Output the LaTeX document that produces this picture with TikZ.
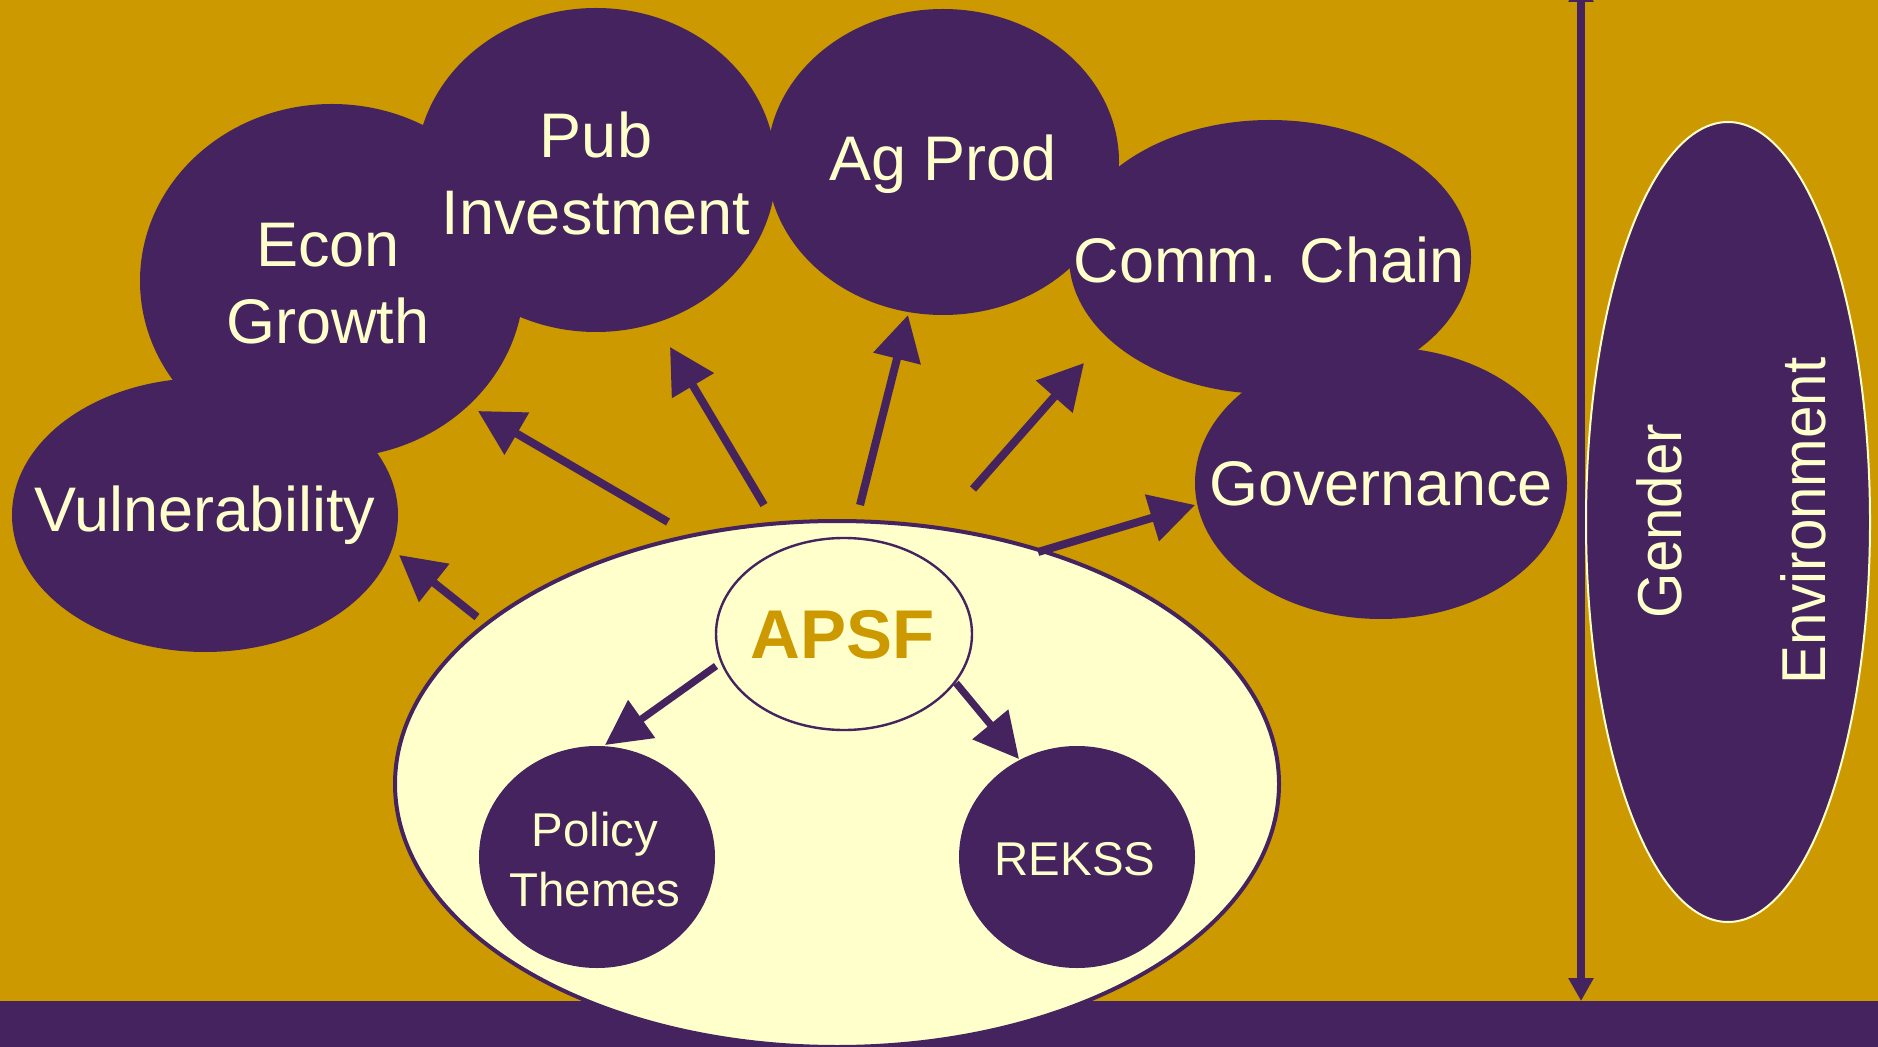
\documentclass[tikz,border=0pt]{standalone}
\usepackage{fontspec}
\setmainfont{Liberation Sans}
\usetikzlibrary{arrows.meta,shapes.geometric}
\definecolor{gold}{HTML}{CC9900}
\definecolor{plum}{HTML}{45235E}
\definecolor{cream}{HTML}{FFFFCC}
\begin{document}
\begin{tikzpicture}[x=0.5pt,y=-0.5pt,
  blob/.style={ellipse, fill=plum, draw=none, inner sep=0pt},
  lbl/.style={text=cream, align=center, inner sep=0pt, font=\fontsize{31.5}{38.5}\selectfont},
  smalllbl/.style={text=cream, align=center, inner sep=0pt, font=\fontsize{23.7}{30}\selectfont},
  sidelbl/.style={text=cream, inner sep=0pt, rotate=90, font=\fontsize{31}{36}\selectfont},
  arr/.style={draw=plum, line width=4pt, -{Triangle[length=22.5pt,width=23.5pt]}},
  innerarr/.style={draw=plum, line width=3.6pt, -{Triangle[length=22.5pt,width=22.5pt]}},
  vertarr/.style={draw=plum, line width=4pt, {Triangle[length=11.5pt,width=12pt]}-{Triangle[length=11.5pt,width=12pt]}}
]
\clip (0,0) rectangle (1878,1047);
\fill[gold] (0,0) rectangle (1878,1047);
\fill[plum] (0,1001) rectangle (1878,1047);

% outer ellipses
\node[blob, minimum width=193pt, minimum height=137pt] (vul) at (205,515) {};
\node[blob, minimum width=192pt, minimum height=177pt] (econ) at (332,281) {};
\node[blob, minimum width=180pt, minimum height=162pt] (pub) at (596,170) {};
\node[blob, minimum width=176pt, minimum height=153pt] (ag) at (943,162) {};
\node[blob, minimum width=201pt, minimum height=137pt] (comm) at (1270,257) {};
\node[blob, minimum width=186pt, minimum height=136pt] (gov) at (1381,483) {};

\node[lbl] (vulT) at (vul) {Vulnerability};
\node[lbl] (econT) at (328,284) {Econ\\Growth};
\node[lbl] (pubT) at (596,173) {Pub\\Investment};
\node[lbl] (agT) at (943,164) {Ag Prod};
\node[lbl] (commT) at (1269,260) {Comm. Chain};
\node[lbl] (govT) at (1381,484) {Governance};

% side ellipse
\node[blob, draw=cream, line width=1pt, minimum width=142pt, minimum height=400pt] (genv) at (1728,522) {};
\node[sidelbl] (genT) at (1659,521) {\scalebox{0.94}[1]{Gender}};
\node[sidelbl] (envT) at (1803,521) {\scalebox{0.94}[1]{Environment}};

% vertical double arrow
\coordinate (vtop) at (1581,-21);
\coordinate (vbot) at (1581,1001);
\draw[vertarr] (vtop) -- (vbot);

% central cream ellipse
\node[ellipse, fill=cream, draw=plum, line width=2pt, inner sep=0pt, minimum width=442pt, minimum height=263pt] (big) at (837,784) {};
\node[ellipse, fill=cream, draw=plum, line width=1.2pt, inner sep=0pt, minimum width=128pt, minimum height=96pt] (apsf) at (844,634) {};
\node[text=gold, inner sep=0pt, font=\fontsize{34.5}{40}\selectfont\bfseries] (apsfT) at (843,635) {APSF};
\node[blob, minimum width=118pt, minimum height=111pt] (pol) at (597,857) {};
\node[blob, minimum width=118pt, minimum height=111pt] (rek) at (1077,857) {};
\node[smalllbl] (polT) at (595,860) {Policy\\Themes};
\node[smalllbl] (rekT) at (1075,859) {REKSS};

% outward arrows
\coordinate (a1s) at (477,617);  \coordinate (a1e) at (399,555);
\coordinate (a2s) at (668,522);  \coordinate (a2e) at (478,411);
\coordinate (a3s) at (764,505);  \coordinate (a3e) at (670,347);
\coordinate (a4s) at (860,505);  \coordinate (a4e) at (908,315);
\coordinate (a5s) at (973,489);  \coordinate (a5e) at (1084,363);
\coordinate (a6s) at (1038,552); \coordinate (a6e) at (1195,505);
\draw[arr] (a1s) -- (a1e);
\draw[arr] (a2s) -- (a2e);
\draw[arr] (a3s) -- (a3e);
\draw[arr] (a4s) -- (a4e);
\draw[arr] (a5s) -- (a5e);
\draw[arr] (a6s) -- (a6e);

% inner arrows
\coordinate (b1s) at (716,666); \coordinate (b1e) at (605,745);
\coordinate (b2s) at (956,683); \coordinate (b2e) at (1019,759);
\draw[innerarr] (b1s) -- (b1e);
\draw[innerarr] (b2s) -- (b2e);
\end{tikzpicture}
\end{document}
